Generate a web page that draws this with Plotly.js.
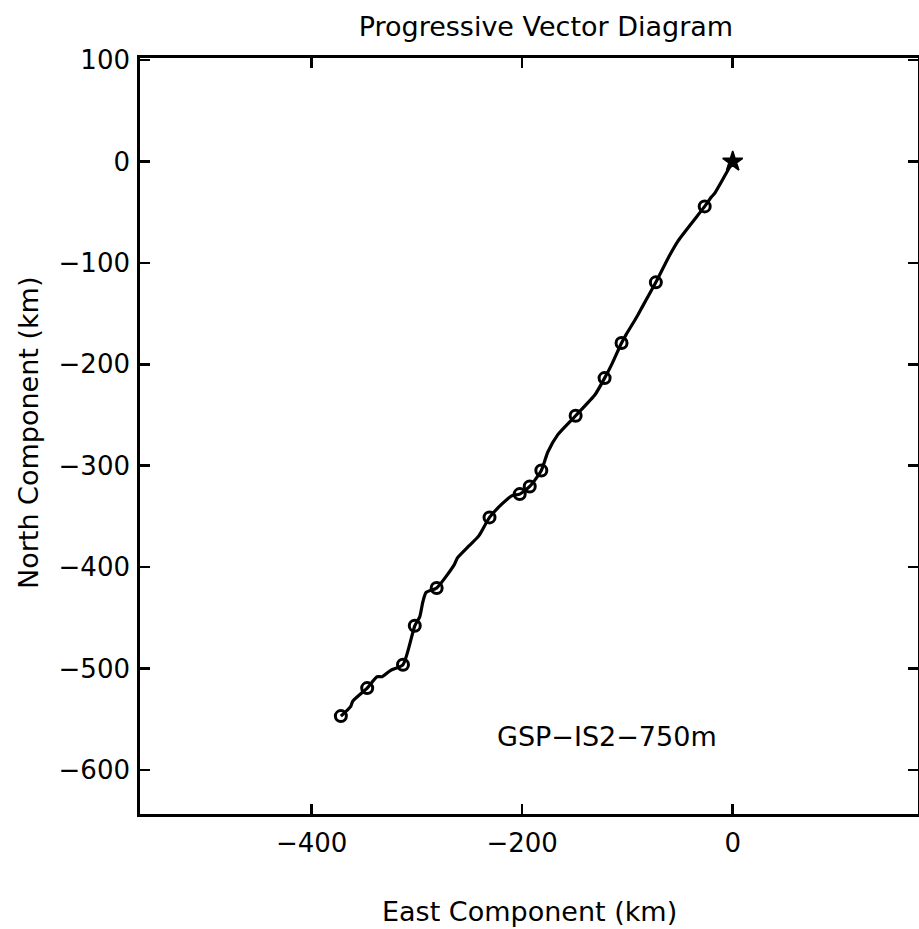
<!DOCTYPE html>
<html>
<head>
<meta charset="utf-8">
<script src="https://cdn.plot.ly/plotly-3.0.1.min.js"></script>
<style>
  html, body { margin: 0; padding: 0; background: #fff; }
  #chart { width: 919px; height: 929px; }
</style>
</head>
<body>
<div id="chart"></div>
<script>
// Progressive vector path (km)
const pathEast  = [0, -17.0, -20.1, -26.6, -51.7, -61.0, -73.0, -87.0, -91.6, -101.0, -105.6, -114.9, -121.7, -130.7, -149.2, -166.3, -175.6, -181.8, -192.8, -202.3, -210.0, -219.4, -231.0, -241.2, -250.6, -261.6, -264.6, -281.2, -291.2, -294.3, -297.3, -302.0, -313.2, -325.2, -333.0, -337.8, -347.2, -361.0, -362.8, -372.2];
const pathNorth = [0, -31.1, -34.8, -44.2, -77.9, -94.5, -119.1, -145.4, -154.0, -170.2, -178.9, -200.0, -213.6, -229.8, -250.7, -269.6, -286.5, -304.7, -320.5, -328.0, -329.7, -338.0, -351.0, -369.2, -379.2, -391.1, -397.8, -420.6, -425.0, -434.2, -449.1, -457.9, -496.3, -502.1, -508.1, -508.2, -519.4, -532.4, -537.4, -547.0];

// Circle markers along the path (km)
const markEast  = [-26.6, -73.0, -105.6, -121.7, -149.2, -181.8, -192.8, -202.3, -231.0, -281.2, -302.0, -313.2, -347.2, -372.2];
const markNorth = [-44.2, -119.1, -178.9, -213.6, -250.7, -304.7, -320.5, -328.0, -351.0, -420.6, -457.9, -496.3, -519.4, -547.0];

// Start point
const startEast  = [0];
const startNorth = [0];

// Axis ticks
const xTicks = [-400, -200, 0];
const yTicks = [100, 0, -100, -200, -300, -400, -500, -600];

const stationLabel = "GSP\u2212IS2\u2212750m";

const fontFam = "DejaVu Sans, Verdana, sans-serif";

const traces = [
  {
    x: pathEast, y: pathNorth, type: 'scatter', mode: 'lines',
    line: { color: '#000', width: 3.2, shape: 'spline', smoothing: 0.6 },
    hoverinfo: 'skip', showlegend: false
  },
  {
    x: markEast, y: markNorth, type: 'scatter', mode: 'markers',
    marker: { symbol: 'circle-open', size: 11, color: '#000', line: { color: '#000', width: 3 } },
    showlegend: false
  },
  {
    x: startEast, y: startNorth, type: 'scatter', mode: 'markers',
    marker: { symbol: 'star', size: 15, color: '#000', line: { color: '#000', width: 1.5 } },
    showlegend: false
  }
];

const tickfmt = v => (v < 0 ? '\u2212' + Math.abs(v) : String(v));

const layout = {
  width: 919, height: 929,
  margin: { l: 140, r: 1, t: 58, b: 115 },
  paper_bgcolor: '#fff', plot_bgcolor: '#fff',
  font: { family: fontFam, color: '#000', size: 26 },
  title: {
    text: 'Progressive Vector Diagram',
    font: { family: fontFam, size: 27, color: '#000' },
    x: 0.594, xref: 'container', xanchor: 'center',
    y: 1 - 27 / 929, yref: 'container', yanchor: 'middle'
  },
  xaxis: {
    range: [-563, 176],
    tickmode: 'array', tickvals: xTicks, ticktext: xTicks.map(tickfmt),
    ticks: 'inside', ticklen: 10, tickwidth: 2.5, tickcolor: '#000',
    showline: true, linecolor: '#000', linewidth: 2.8, mirror: 'allticks',
    showgrid: false, zeroline: false,
    tickfont: { family: fontFam, size: 26, color: '#000' },
    ticklabelstandoff: 4
  },
  yaxis: {
    range: [-643.6, 102.2],
    tickmode: 'array', tickvals: yTicks, ticktext: yTicks.map(tickfmt),
    ticks: 'inside', ticklen: 10, tickwidth: 2.5, tickcolor: '#000',
    showline: true, linecolor: '#000', linewidth: 2.8, mirror: 'allticks',
    showgrid: false, zeroline: false,
    tickfont: { family: fontFam, size: 26, color: '#000' },
    ticklabelstandoff: 2
  },
  annotations: [
    {
      text: 'East Component (km)', xref: 'paper', yref: 'paper',
      x: 0.5, y: (814 - 911) / 756, xanchor: 'center', yanchor: 'middle',
      showarrow: false, font: { family: fontFam, size: 27, color: '#000' }
    },
    {
      text: 'North Component (km)', xref: 'paper', yref: 'paper',
      x: (28 - 140) / 778, y: (814 - 433) / 756, xanchor: 'center', yanchor: 'middle',
      textangle: -90, showarrow: false, font: { family: fontFam, size: 27, color: '#000' }
    },
    {
      text: stationLabel, xref: 'x', yref: 'y',
      x: -119, y: -567, xanchor: 'center', yanchor: 'middle',
      showarrow: false, font: { family: fontFam, size: 27, color: '#000' }
    }
  ]
};

Plotly.newPlot('chart', traces, layout, { staticPlot: true, displayModeBar: false });
</script>
</body>
</html>
